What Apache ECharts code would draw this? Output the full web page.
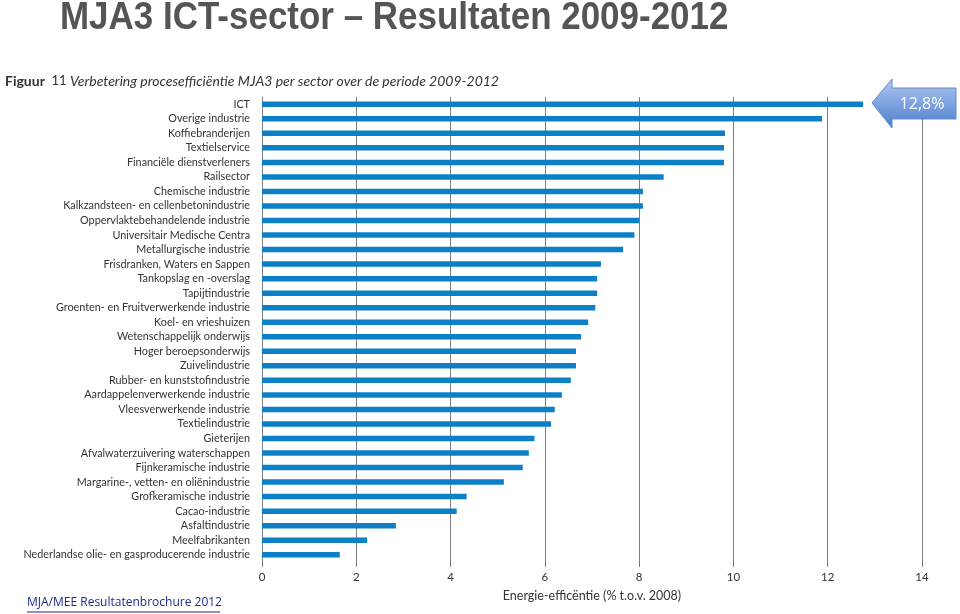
<!DOCTYPE html>
<html>
<head>
<meta charset="utf-8">
<script src="https://cdn.jsdelivr.net/npm/echarts@6/dist/echarts.min.js"></script>
<style>
html,body{margin:0;padding:0;background:#fff;}
#chart{width:960px;height:614px;}
</style>
</head>
<body>
<div id="chart"></div>
<script>
var categories = [
  "ICT",
  "Overige industrie",
  "Koffiebranderijen",
  "Textielservice",
  "Financiële dienstverleners",
  "Railsector",
  "Chemische industrie",
  "Kalkzandsteen- en cellenbetonindustrie",
  "Oppervlaktebehandelende industrie",
  "Universitair Medische Centra",
  "Metallurgische industrie",
  "Frisdranken, Waters en Sappen",
  "Tankopslag en -overslag",
  "Tapijtindustrie",
  "Groenten- en Fruitverwerkende industrie",
  "Koel- en vrieshuizen",
  "Wetenschappelijk onderwijs",
  "Hoger beroepsonderwijs",
  "Zuivelindustrie",
  "Rubber- en kunststofindustrie",
  "Aardappelenverwerkende industrie",
  "Vleesverwerkende industrie",
  "Textielindustrie",
  "Gieterijen",
  "Afvalwaterzuivering waterschappen",
  "Fijnkeramische industrie",
  "Margarine-, vetten- en oliënindustrie",
  "Grofkeramische industrie",
  "Cacao-industrie",
  "Asfaltindustrie",
  "Meelfabrikanten",
  "Nederlandse olie- en gasproducerende industrie"
];
var efficiency = [
  12.75, 11.88, 9.82, 9.80, 9.80, 8.52, 8.08, 8.08, 8.00, 7.90, 7.66,
  7.19, 7.11, 7.11, 7.07, 6.92, 6.77, 6.66, 6.66, 6.55, 6.36, 6.21,
  6.13, 5.78, 5.66, 5.53, 5.13, 4.34, 4.13, 2.84, 2.23, 1.65
];
var xTicks = [0, 2, 4, 6, 8, 10, 12, 14];
var mainTitle = "MJA3 ICT-sector \u2013 Resultaten 2009-2012";
var figureLabel = "Figuur";
var figureNumber = "11";
var figureTitle = "Verbetering procesefficiëntie MJA3 per sector over de periode 2009-2012";
var axisTitle = "Energie-efficëntie (% t.o.v. 2008)";
var calloutText = "12,8%";
var sourceText = "MJA/MEE Resultatenbrochure 2012";

var chart = echarts.init(document.getElementById('chart'), null, {renderer: 'canvas'});
var labelFont = 'Lato';

var option = {
  backgroundColor: '#ffffff',
  animation: false,
  grid: {left: 262, right: 38, top: 97, bottom: 52, containLabel: false},
  xAxis: {
    type: 'value',
    min: xTicks[0],
    max: xTicks[xTicks.length - 1],
    interval: 2,
    position: 'bottom',
    axisLine: {show: false},
    axisTick: {show: true, length: 5, lineStyle: {color: '#777', width: 1}},
    splitLine: {show: true, lineStyle: {color: '#7f7f7f', width: 1}},
    axisLabel: {color: '#333', fontFamily: labelFont, fontSize: 11.5, margin: 9},
    name: axisTitle,
    nameLocation: 'middle',
    nameGap: 27,
    nameTextStyle: {color: '#333', fontFamily: labelFont, fontSize: 12.5}
  },
  yAxis: {
    type: 'category',
    data: categories,
    inverse: true,
    axisLine: {show: true, lineStyle: {color: '#7f7f7f', width: 1}},
    axisTick: {show: false},
    axisLabel: {color: '#333', fontFamily: labelFont, fontSize: 10.8, margin: 12, interval: 0}
  },
  series: [{
    type: 'bar',
    data: efficiency,
    barWidth: 5.5,
    itemStyle: {color: '#0b80c6'},
    z: 3
  }],
  graphic: [
    {
      type: 'text', left: 60, top: 0, z: 10,
      scaleX: 0.92,
      style: {text: mainTitle, fill: '#555555', font: 'bold 38px "Liberation Sans", Arial, sans-serif'}
    },
    {
      type: 'text', left: 5, top: 74, z: 10,
      style: {
        text: '{b|' + figureLabel + '}{n|  ' + figureNumber + ' }{i|' + figureTitle + '}',
        rich: {
          b: {fontFamily: labelFont, fontWeight: 'bold', fontSize: 14, fill: '#333'},
          n: {fontFamily: labelFont, fontSize: 13, fill: '#333'},
          i: {fontFamily: labelFont, fontStyle: 'italic', fontSize: 14, fill: '#333'}
        }
      }
    },
    {
      type: 'polygon', z: 20,
      shape: {points: [[872, 103], [892, 79], [892, 88], [956, 88], [956, 119], [892, 119], [892, 128]]},
      style: {
        fill: new echarts.graphic.LinearGradient(0, 0, 0, 1, [
          {offset: 0, color: '#b0c9ef'},
          {offset: 0.5, color: '#7ea3df'},
          {offset: 1, color: '#4c7ecb'}
        ]),
        stroke: '#5f8ccc', lineWidth: 1
      }
    },
    {
      type: 'text', x: 922, y: 104, z: 21,
      style: {text: calloutText, fill: '#ffffff', font: '16px "Open Sans", sans-serif', align: 'center', verticalAlign: 'middle'}
    },
    {
      type: 'text', left: 27, top: 597, z: 10,
      style: {text: sourceText, fill: '#1c2a8c', font: '12px "Open Sans", sans-serif'}
    },
    {
      type: 'line', z: 10,
      shape: {x1: 27, y1: 612, x2: 220, y2: 612},
      style: {stroke: '#1c2a8c', lineWidth: 1}
    }
  ]
};
chart.setOption(option);
</script>
</body>
</html>
